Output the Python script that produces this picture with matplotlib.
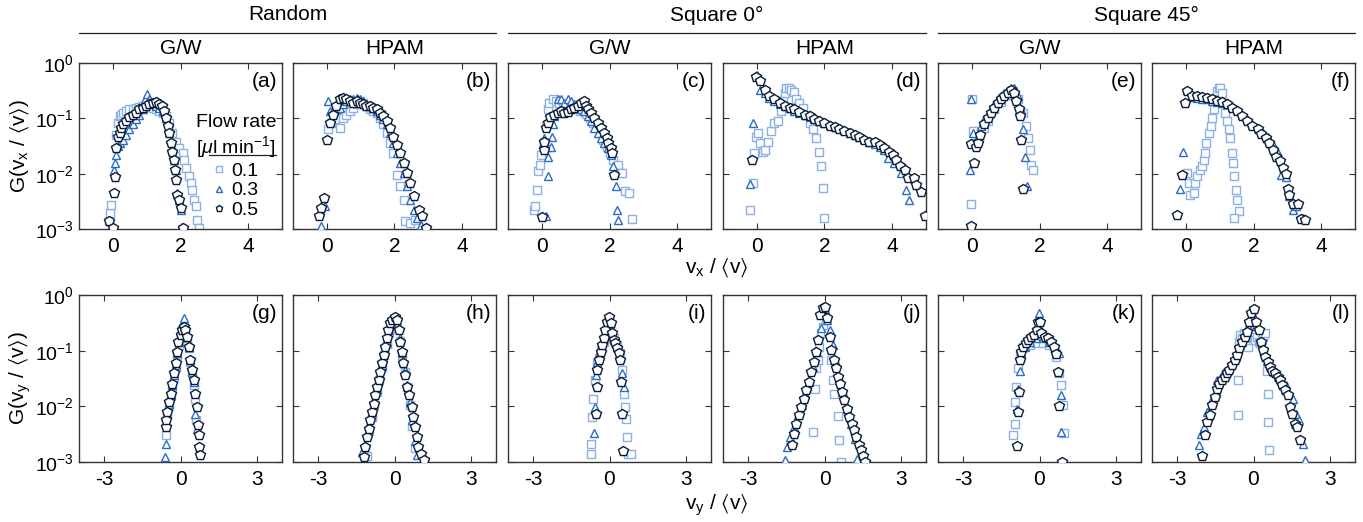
import matplotlib
matplotlib.use("Agg")
import matplotlib.pyplot as plt
from matplotlib.lines import Line2D
from matplotlib.ticker import FixedLocator, NullLocator, NullFormatter

plt.rcParams['font.family'] = ['Liberation Sans', 'DejaVu Sans']
plt.rcParams['mathtext.fontset'] = 'custom'
plt.rcParams['mathtext.rm'] = 'Liberation Sans'
plt.rcParams['mathtext.it'] = 'Liberation Sans:italic'
plt.rcParams['mathtext.bf'] = 'Liberation Sans:bold'
plt.rcParams['mathtext.fallback'] = 'stixsans'
plt.rcParams['axes.unicode_minus'] = False

# ---- data.  x = v/<v>, g = G ----
# suffix 1 -> 0.1, 3 -> 0.3, 5 -> 0.5 ul/min

# (a) Random, G/W, vx
a_x1 = [-0.10, -0.08, -0.05, 0.10, 0.15, 0.20, 0.25, 0.29, 0.39, 0.49, 0.59, 0.69, 0.78, 0.88, 0.98, 1.08, 1.18, 1.27,
        1.37, 1.47, 1.57, 1.67, 1.76, 1.86, 1.96, 2.06, 2.11, 2.16, 2.25, 2.30, 2.35, 2.40, 2.45, 2.50, 2.55]
a_g1 = [0.00138, 0.00195, 0.00275, 0.0501, 0.0832, 0.110, 0.117, 0.126, 0.135, 0.145, 0.145, 0.155, 0.162, 0.166,
        0.178, 0.166, 0.155, 0.145, 0.135, 0.126, 0.110, 0.0832, 0.0537, 0.0380, 0.0288, 0.0234, 0.0178, 0.0126,
        0.00891, 0.00676, 0.00513, 0.00339, 0.00257, 0.00148, 0.00105]
a_x3 = [0.02, 0.05, 0.10, 0.15, 0.20, 0.29, 0.39, 0.49, 0.59, 0.69, 0.78, 0.88, 0.95, 1.00, 1.08, 1.18, 1.27, 1.37,
        1.47, 1.57, 1.67, 1.76, 1.81, 1.86, 1.91, 1.96, 2.01, 2.06]
a_g3 = [0.0117, 0.0158, 0.0219, 0.0316, 0.0355, 0.0407, 0.0501, 0.0631, 0.0776, 0.0955, 0.117, 0.145, 0.219, 0.275,
        0.219, 0.191, 0.170, 0.155, 0.135, 0.102, 0.0575, 0.0269, 0.0178, 0.0117, 0.00447, 0.00339, 0.00224, 0.00105]
a_x5 = [-0.10, 0.00, 0.03, 0.06, 0.08, 0.15, 0.20, 0.25, 0.31, 0.39, 0.49, 0.59, 0.69, 0.78, 0.88, 0.98, 1.08, 1.18,
        1.27, 1.37, 1.45, 1.52, 1.57, 1.62, 1.67, 1.72, 1.76, 1.81, 1.84, 1.88, 1.91, 1.96, 2.01, 2.06]
a_g5 = [0.00138, 0.00105, 0.00447, 0.0087, 0.0288, 0.0468, 0.0537, 0.0676, 0.0776, 0.0891, 0.105, 0.115, 0.126,
        0.145, 0.155, 0.166, 0.178, 0.191, 0.195, 0.182, 0.166, 0.135, 0.102, 0.0724, 0.0537, 0.0355, 0.0251, 0.0178,
        0.0117, 0.00776, 0.00417, 0.00339, 0.0024, 0.00105]

# (b) Random, HPAM, vx
b_x1 = [0.03, 0.13, 0.23, 0.38, 0.48, 0.58, 0.68, 0.78, 0.88, 0.98, 1.07, 1.17, 1.27, 1.37, 1.47, 1.57, 1.67, 1.77,
        1.87, 1.97, 2.07, 2.17, 2.27, 2.32, 2.47, 2.62]
b_g1 = [0.0631, 0.0832, 0.0955, 0.0676, 0.102, 0.117, 0.135, 0.155, 0.178, 0.204, 0.191, 0.166, 0.145, 0.135, 0.126,
        0.102, 0.0776, 0.055, 0.0355, 0.0234, 0.00955, 0.00589, 0.00339, 0.00138, 0.00129, 0.00148]
b_x3 = [-0.17, -0.04, 0.03, 0.08, 0.18, 0.28, 0.38, 0.48, 0.58, 0.68, 0.78, 0.88, 0.98, 1.07, 1.17, 1.27, 1.37, 1.47,
        1.57, 1.67, 1.77, 1.87, 1.97, 2.07, 2.17, 2.27, 2.37, 2.47, 2.57, 2.67, 2.77]
b_g3 = [0.00112, 0.00257, 0.204, 0.135, 0.141, 0.145, 0.155, 0.178, 0.204, 0.219, 0.219, 0.234, 0.219, 0.204, 0.178,
        0.166, 0.155, 0.135, 0.117, 0.0955, 0.0776, 0.055, 0.0355, 0.0234, 0.0155, 0.0102, 0.00589, 0.00339, 0.00224,
        0.00158, 0.0012]
b_x5 = [-0.22, -0.17, -0.07, 0.00, 0.08, 0.18, 0.28, 0.38, 0.48, 0.58, 0.68, 0.78, 0.88, 0.98, 1.07, 1.17, 1.27, 1.37,
        1.47, 1.57, 1.67, 1.77, 1.87, 1.97, 2.07, 2.17, 2.27, 2.37, 2.47, 2.57, 2.72, 2.82, 2.92]
b_g5 = [0.0017, 0.0024, 0.00363, 0.0407, 0.0832, 0.117, 0.166, 0.219, 0.234, 0.219, 0.204, 0.191, 0.204, 0.191, 0.178,
        0.170, 0.166, 0.155, 0.145, 0.126, 0.110, 0.0891, 0.0676, 0.0468, 0.0331, 0.0234, 0.0155, 0.0102, 0.00676,
        0.00389, 0.00224, 0.0017, 0.00105]

# (c) Square 0, G/W, vx
c_x1 = [-0.23, -0.20, -0.15, -0.10, -0.05, -0.03, 0.05, 0.12, 0.17, 0.22, 0.32, 0.42, 0.52, 0.62, 0.72, 0.82, 0.92,
        1.02, 1.12, 1.22, 1.32, 1.42, 1.52, 1.62, 1.72, 1.82, 1.92, 2.02, 2.10, 2.25, 2.30, 2.38, 2.45, 2.57, 2.67]
c_g1 = [0.00224, 0.00257, 0.00513, 0.011, 0.0145, 0.0219, 0.038, 0.0724, 0.145, 0.191, 0.219, 0.204, 0.191, 0.178,
        0.166, 0.162, 0.155, 0.145, 0.138, 0.135, 0.12, 0.102, 0.0832, 0.0676, 0.0537, 0.0407, 0.0309, 0.0234, 0.0178,
        0.0145, 0.0102, 0.0102, 0.00479, 0.00447, 0.00151]
c_x3 = [0.12, 0.02, 0.07, 0.15, 0.19, 0.17, 0.27, 0.29, 0.32, 0.37, 0.47, 0.56, 0.66, 0.76, 0.86, 0.96, 1.06, 1.16,
        1.26, 1.36, 1.46, 1.55, 1.65, 1.75, 1.85, 1.95, 2.03, 2.10, 2.20, 2.23, 2.25]
c_g3 = [0.0017, 0.0355, 0.0437, 0.0309, 0.0204, 0.00891, 0.0309, 0.0468, 0.0776, 0.110, 0.219, 0.219, 0.191, 0.219,
        0.204, 0.178, 0.155, 0.145, 0.135, 0.110, 0.0891, 0.0676, 0.0537, 0.0437, 0.0355, 0.0288, 0.0219, 0.0135,
        0.00603, 0.00224, 0.00148]
c_x5 = [0.00, 0.05, 0.07, 0.12, 0.17, 0.25, 0.37, 0.47, 0.56, 0.66, 0.76, 0.86, 0.96, 1.06, 1.16, 1.26, 1.31, 1.36,
        1.46, 1.55, 1.65, 1.75, 1.85, 1.93, 1.97, 2.03, 2.07, 2.13]
c_g5 = [0.00166, 0.0269, 0.038, 0.0676, 0.0832, 0.105, 0.117, 0.126, 0.135, 0.126, 0.129, 0.145, 0.155, 0.170, 0.191,
        0.204, 0.170, 0.145, 0.126, 0.102, 0.0832, 0.0676, 0.0537, 0.0437, 0.0355, 0.0288, 0.0234, 0.00933]

# (d) Square 0, HPAM, vx
d_x1 = [-0.19, -0.12, -0.07, -0.02, 0.03, 0.08, 0.18, 0.25, 0.33, 0.42, 0.52, 0.62, 0.72, 0.77, 0.82, 0.87, 0.95,
        1.01, 1.09, 1.16, 1.26, 1.36, 1.45, 1.56, 1.65, 1.75, 1.85, 1.90, 1.95, 2.00]
d_g1 = [0.00224, 0.00676, 0.0234, 0.0468, 0.0537, 0.0355, 0.0251, 0.0269, 0.038, 0.0589, 0.0832, 0.0891, 0.135,
        0.204, 0.288, 0.355, 0.355, 0.331, 0.295, 0.219, 0.191, 0.155, 0.117, 0.0832, 0.0631, 0.0437, 0.0251, 0.0135,
        0.0055, 0.00155]
d_x3 = [-0.19, -0.12, 0.00, 0.08, 0.23, 0.37, 0.52, 0.67, 0.82, 0.97, 1.11, 1.26, 1.41, 1.56, 1.70, 1.85, 2.00, 2.15,
        2.30, 2.44, 2.59, 2.74, 2.89, 3.03, 3.18, 3.33, 3.48, 3.63, 3.77, 3.87, 4.06, 4.26, 4.41, 4.51]
d_g3 = [0.0066, 0.0832, 0.617, 0.331, 0.282, 0.234, 0.204, 0.182, 0.166, 0.151, 0.138, 0.126, 0.117, 0.107, 0.0977,
        0.0912, 0.0832, 0.0759, 0.0708, 0.0661, 0.0603, 0.055, 0.0501, 0.0457, 0.0417, 0.038, 0.0347, 0.0309, 0.0269,
        0.0191, 0.0155, 0.0102, 0.00513, 0.00339]
d_x5 = [-0.14, -0.02, 0.08, 0.23, 0.37, 0.52, 0.67, 0.82, 0.97, 1.11, 1.26, 1.41, 1.56, 1.70, 1.85, 2.00, 2.15, 2.30,
        2.44, 2.59, 2.74, 2.89, 3.03, 3.18, 3.33, 3.48, 3.63, 3.77, 3.92, 4.02, 4.12, 4.22, 4.37, 4.46, 4.64, 4.71,
        4.85, 4.97]
d_g5 = [0.0178, 0.55, 0.479, 0.331, 0.251, 0.219, 0.191, 0.170, 0.155, 0.145, 0.129, 0.117, 0.110, 0.0977, 0.0891,
        0.0832, 0.0741, 0.0692, 0.0631, 0.0589, 0.0537, 0.049, 0.0457, 0.0407, 0.0372, 0.038, 0.0331, 0.0288, 0.0251,
        0.0219, 0.0178, 0.0135, 0.0117, 0.00832, 0.00832, 0.00631, 0.00457, 0.00174]

# (e) Square 45, G/W, vx
e_x1 = [-0.03, 0.00, 0.02, 0.12, 0.37, 0.47, 0.66, 0.86, 1.06, 1.21, 1.36, 1.51, 1.61, 1.66, 1.71, 1.76, 1.81]
e_g1 = [0.00288, 0.219, 0.0589, 0.0355, 0.0661, 0.0891, 0.145, 0.2, 0.269, 0.309, 0.219, 0.126, 0.0724, 0.0437,
        0.0269, 0.0145, 0.0115]
e_x3 = [-0.03, -0.05, 0.02, 0.12, 0.27, 0.37, 0.47, 0.56, 0.66, 0.76, 0.86, 0.96, 1.06, 1.16, 1.26, 1.36, 1.46, 1.51,
        1.56, 1.63]
e_g3 = [0.224, 0.0115, 0.0537, 0.0407, 0.0724, 0.0955, 0.117, 0.145, 0.178, 0.219, 0.251, 0.288, 0.324, 0.355, 0.355,
        0.251, 0.145, 0.0631, 0.0204, 0.00603]
e_x5 = [-0.03, 0.07, -0.03, 0.12, 0.17, 0.25, 0.37, 0.47, 0.56, 0.66, 0.76, 0.86, 0.96, 1.06, 1.16, 1.24, 1.31, 1.38,
        1.42, 1.46, 1.51]
e_g5 = [0.00112, 0.0155, 0.0347, 0.0309, 0.0355, 0.0501, 0.0776, 0.102, 0.126, 0.155, 0.191, 0.219, 0.251, 0.288,
        0.324, 0.282, 0.204, 0.145, 0.110, 0.0407, 0.00537]

# (f) Square 45, HPAM, vx
f_x1 = [0.03, 0.08, 0.13, 0.23, 0.28, 0.33, 0.41, 0.48, 0.53, 0.58, 0.61, 0.68, 0.73, 0.78, 0.83, 0.88, 0.93, 0.98,
        1.02, 1.07, 1.12, 1.17, 1.22, 1.27, 1.32, 1.37, 1.40, 1.42, 1.47, 1.52, 1.57, 1.42]
f_g1 = [0.0102, 0.00676, 0.00417, 0.00447, 0.00676, 0.00891, 0.0117, 0.0135, 0.0178, 0.0234, 0.0355, 0.0537, 0.0724,
        0.102, 0.145, 0.219, 0.309, 0.355, 0.355, 0.288, 0.191, 0.126, 0.0891, 0.0631, 0.0437, 0.0234, 0.0155, 0.00891,
        0.00513, 0.00339, 0.00209, 0.00158]
f_x3 = [-0.17, -0.07, 0.03, 0.18, 0.33, 0.48, 0.63, 0.78, 0.93, 1.07, 1.22, 1.37, 1.52, 1.67, 1.82, 1.97, 2.12, 2.27,
        2.42, 2.57, 2.72, 2.82, 2.96, 3.06, 3.16, 3.26, 3.46]
f_g3 = [0.00537, 0.0251, 0.331, 0.24, 0.229, 0.224, 0.219, 0.209, 0.2, 0.191, 0.182, 0.162, 0.141, 0.117, 0.0955,
        0.0794, 0.0676, 0.055, 0.0457, 0.0339, 0.0234, 0.00955, 0.00871, 0.00398, 0.00224, 0.00263, 0.00158]
f_x5 = [-0.27, -0.10, -0.02, 0.03, 0.18, 0.33, 0.48, 0.63, 0.78, 0.93, 1.07, 1.22, 1.37, 1.52, 1.67, 1.82, 1.97, 2.12,
        2.22, 2.37, 2.47, 2.57, 2.67, 2.77, 2.87, 2.96, 3.01, 3.06, 3.16, 3.31, 3.41, 3.51]
f_g5 = [0.00182, 0.00955, 0.191, 0.309, 0.251, 0.251, 0.24, 0.229, 0.219, 0.209, 0.195, 0.178, 0.155, 0.135, 0.110,
        0.0891, 0.0741, 0.0631, 0.0513, 0.0437, 0.0355, 0.0269, 0.0204, 0.0166, 0.0126, 0.01, 0.00525, 0.00417,
        0.00282, 0.00282, 0.00151, 0.00148]

# (g) Random, G/W, vy
g_x1 = [-0.56, -0.52, -0.45, -0.39, -0.32, -0.26, -0.19, -0.13, -0.06, 0.00, 0.06, 0.13, 0.19, 0.26, 0.32, 0.39, 0.45,
        0.52, 0.58, 0.62]
g_g1 = [0.00302, 0.00708, 0.0107, 0.0151, 0.0224, 0.0339, 0.0513, 0.0832, 0.126, 0.178, 0.24, 0.263, 0.219, 0.166,
        0.110, 0.0631, 0.0389, 0.024, 0.0138, 0.00562]
g_x3 = [-0.61, -0.58, -0.52, -0.45, -0.39, -0.32, -0.26, -0.19, -0.13, -0.06, 0.00, 0.06, 0.13, 0.19, 0.26, 0.32, 0.39,
        0.45, 0.52, 0.58, 0.65]
g_g3 = [0.00123, 0.00214, 0.00741, 0.0112, 0.0158, 0.024, 0.0363, 0.055, 0.0891, 0.145, 0.219, 0.302, 0.38, 0.282,
        0.191, 0.117, 0.0676, 0.0417, 0.0275, 0.00741, 0.00398]
g_x5 = [-0.58, -0.56, -0.52, -0.45, -0.39, -0.32, -0.26, -0.19, -0.13, -0.09, 0.00, 0.06, 0.13, 0.19, 0.26, 0.32, 0.39,
        0.45, 0.52, 0.58, 0.65, 0.69, 0.71, 0.74, 0.78]
g_g5 = [0.00427, 0.00562, 0.00794, 0.012, 0.017, 0.0257, 0.0389, 0.0589, 0.0955, 0.145, 0.191, 0.24, 0.269, 0.234,
        0.178, 0.117, 0.0676, 0.0447, 0.0295, 0.017, 0.00977, 0.00457, 0.00302, 0.00186, 0.00132]

# (h) Random, HPAM, vy
h_x1 = [-1.10, -1.00, -0.90, -0.80, -0.70, -0.60, -0.50, -0.40, -0.30, -0.20, -0.10, 0.00, 0.10, 0.20, 0.30, 0.40, 0.50,
        0.60, 0.70, 0.80]
h_g1 = [0.00126, 0.00355, 0.00631, 0.0105, 0.0178, 0.0302, 0.0501, 0.0832, 0.132, 0.209, 0.282, 0.316, 0.251, 0.151,
        0.0832, 0.0417, 0.0219, 0.0105, 0.00447, 0.00178]
h_x3 = [-1.27, -1.18, -1.10, -1.00, -0.90, -0.80, -0.70, -0.60, -0.50, -0.40, -0.30, -0.20, -0.10, 0.00, 0.10, 0.20,
        0.30, 0.40, 0.50, 0.60, 0.70, 0.80, 0.90]
h_g3 = [0.00151, 0.002, 0.00302, 0.0049, 0.00794, 0.0129, 0.0209, 0.0339, 0.055, 0.0891, 0.145, 0.234, 0.331, 0.38,
        0.288, 0.166, 0.0891, 0.0447, 0.024, 0.012, 0.00562, 0.0024, 0.00132]
h_x5 = [-1.21, -1.15, -1.08, -1.02, -0.95, -0.89, -0.82, -0.76, -0.69, -0.63, -0.56, -0.50, -0.43, -0.37, -0.30, -0.24,
        -0.17, -0.10, 0.03, 0.09, 0.16, 0.22, 0.29, 0.35, 0.42, 0.48, 0.59, 0.68, 0.74, 0.81, 0.87, 0.94, 1.03, 1.16]
h_g5 = [0.00123, 0.00186, 0.00282, 0.00398, 0.00562, 0.00794, 0.0112, 0.0158, 0.0224, 0.0295, 0.0417, 0.0589, 0.0832,
        0.117, 0.166, 0.234, 0.309, 0.355, 0.407, 0.355, 0.234, 0.145, 0.0955, 0.0589, 0.0363, 0.0224, 0.0158,
        0.00977, 0.00646, 0.00427, 0.00282, 0.00186, 0.00141, 0.00107]

# (i) Square 0, G/W, vy
i_x1 = [-0.74, -0.74, -0.68, -0.64, -0.57, -0.48, -0.35, -0.22, -0.09, 0.04, 0.17, 0.30, 0.43, 0.50, 0.56, 0.63, 0.65,
        0.69, 0.73, 0.86]
i_g1 = [0.00141, 0.00209, 0.00646, 0.0138, 0.0295, 0.0589, 0.102, 0.145, 0.166, 0.178, 0.166, 0.126, 0.0891, 0.0447,
        0.017, 0.00977, 0.00603, 0.00282, 0.00141, 0.00141]
i_x3 = [-0.61, -0.57, -0.55, -0.48, -0.42, -0.29, -0.16, -0.09, -0.03, 0.04, 0.10, 0.17, 0.30, 0.43, 0.50, 0.56]
i_g3 = [0.00331, 0.00977, 0.0363, 0.0631, 0.0955, 0.135, 0.191, 0.269, 0.355, 0.269, 0.191, 0.155, 0.117, 0.0724,
        0.0389, 0.0224]
i_x5 = [-0.52, -0.51, -0.48, -0.42, -0.35, -0.29, -0.22, -0.16, -0.09, -0.03, 0.04, 0.10, 0.17, 0.23, 0.30, 0.37, 0.43,
        0.47, 0.50, 0.52]
i_g5 = [0.00741, 0.0224, 0.0447, 0.0676, 0.0955, 0.126, 0.166, 0.234, 0.331, 0.407, 0.309, 0.204, 0.155, 0.135, 0.110,
        0.0891, 0.0676, 0.0275, 0.00741, 0.00158]

# (j) Square 0, HPAM, vy
j_x1 = [-0.46, -0.39, -0.33, -0.26, -0.20, -0.13, -0.07, 0.07, 0.13, 0.26, 0.33, 0.39, 0.52, 0.59, 0.65]
j_g1 = [0.00347, 0.0209, 0.0479, 0.0676, 0.117, 0.204, 0.269, 0.355, 0.204, 0.0676, 0.0295, 0.017, 0.00661, 0.00245,
        0.001]
j_x3 = [-1.56, -1.46, -1.35, -1.20, -1.05, -0.90, -0.75, -0.60, -0.45, -0.30, -0.15, 0.00, 0.10, 0.20, 0.33, 0.45,
        0.60, 0.75, 0.90, 1.05, 1.20, 1.30]
j_g3 = [0.00107, 0.00186, 0.00282, 0.00427, 0.00692, 0.0105, 0.017, 0.0275, 0.0513, 0.0955, 0.251, 0.55, 0.355, 0.234,
        0.126, 0.0631, 0.0316, 0.017, 0.00912, 0.0049, 0.00263, 0.00115]
j_x5 = [-1.30, -1.21, -1.11, -1.00, -0.91, -0.82, -0.72, -0.63, -0.52, -0.43, -0.35, -0.26, -0.16, -0.07, 0.00, 0.10,
        0.20, 0.26, 0.37, 0.46, 0.52, 0.61, 0.69, 0.78, 0.87, 0.98, 1.07, 1.17, 1.24, 1.34, 1.43, 1.50, 1.60]
j_g5 = [0.002, 0.00324, 0.0049, 0.00692, 0.00977, 0.0138, 0.0195, 0.0275, 0.0417, 0.0631, 0.0955, 0.155, 0.437, 0.575,
        0.603, 0.38, 0.178, 0.102, 0.0676, 0.0479, 0.0339, 0.0257, 0.0182, 0.0129, 0.00912, 0.00646, 0.0049, 0.00372,
        0.00282, 0.002, 0.00162, 0.00126, 0.001]

# (k) Square 45, G/W, vy
k_x1 = [-1.04, -0.98, -0.95, -0.91, -0.85, -0.78, -0.65, -0.39, -0.13, 0.13, 0.39, 0.65, 0.78, 0.85, 0.91, 0.98]
k_g1 = [0.00309, 0.0049, 0.012, 0.0219, 0.0479, 0.0832, 0.117, 0.126, 0.135, 0.135, 0.126, 0.0776, 0.0389, 0.024,
        0.0105, 0.00331]
k_x3 = [-0.87, -0.84, -0.78, -0.72, -0.59, -0.39, -0.13, -0.03, 0.13, 0.39, 0.65, 0.78, 0.85, 0.85, 0.89]
k_g3 = [0.00912, 0.0209, 0.0437, 0.0891, 0.117, 0.145, 0.166, 0.479, 0.166, 0.145, 0.110, 0.0891, 0.0158, 0.00347,
        0.001]
k_x5 = [-0.87, -0.84, -0.81, -0.78, -0.72, -0.65, -0.55, -0.46, -0.33, -0.20, -0.10, -0.04, 0.00, 0.07, 0.20, 0.33,
        0.46, 0.59, 0.65, 0.72, 0.78, 0.89]
k_g5 = [0.00195, 0.00794, 0.0182, 0.0676, 0.0955, 0.117, 0.135, 0.155, 0.174, 0.191, 0.234, 0.331, 0.331, 0.204,
        0.178, 0.166, 0.145, 0.117, 0.0871, 0.0417, 0.01, 0.001]

# (l) Square 45, HPAM, vy
l_x1 = [-0.61, -0.61, -0.58, -0.52, -0.45, -0.39, -0.30, -0.26, -0.20, -0.13, -0.07, 0.00, 0.07, 0.13, 0.20, 0.26,
        0.33, 0.39, 0.46, 0.52, 0.59, 0.59, 0.61]
l_g1 = [0.00692, 0.0295, 0.141, 0.191, 0.166, 0.204, 0.178, 0.155, 0.117, 0.158, 0.166, 0.178, 0.158, 0.178, 0.141,
        0.135, 0.158, 0.178, 0.204, 0.0437, 0.017, 0.00525, 0.00166]
l_x3 = [-2.15, -2.05, -1.96, -1.83, -1.63, -1.43, -1.20, -0.95, -0.70, -0.45, -0.20, -0.07, 0.10, 0.30, 0.55, 0.80,
        1.05, 1.30, 1.56, 1.69, 1.80, 1.96, 2.02]
l_g3 = [0.002, 0.00324, 0.00427, 0.00794, 0.0138, 0.0295, 0.0398, 0.0501, 0.0759, 0.141, 0.282, 0.501, 0.282, 0.151,
        0.0661, 0.0417, 0.0316, 0.024, 0.0138, 0.00741, 0.00562, 0.00214, 0.0011]
l_x5 = [-2.02, -1.92, -1.83, -1.73, -1.63, -1.53, -1.43, -1.34, -1.24, -1.13, -1.04, -0.95, -0.85, -0.74, -0.65, -0.56,
        -0.46, -0.35, -0.26, -0.17, -0.09, 0.00, 0.09, 0.20, 0.30, 0.39, 0.46, 0.56, 0.65, 0.74, 0.85, 0.95, 1.04,
        1.13, 1.24, 1.34, 1.43, 1.53, 1.63, 1.73, 1.83]
l_g5 = [0.00129, 0.00302, 0.00525, 0.00692, 0.0105, 0.0148, 0.0209, 0.0257, 0.0295, 0.0339, 0.0389, 0.0447, 0.055,
        0.0676, 0.0832, 0.110, 0.145, 0.178, 0.219, 0.331, 0.468, 0.55, 0.331, 0.234, 0.145, 0.102, 0.0776, 0.0631,
        0.0513, 0.0437, 0.0389, 0.0339, 0.0295, 0.024, 0.0195, 0.0158, 0.00977, 0.00741, 0.0049, 0.00427, 0.00251]

groups = ["Random", "Square 0\u00b0", "Square 45\u00b0"]
fluids = ["G/W", "HPAM"]
rates = ["0.1", "0.3", "0.5"]

top_panels = [(a_x1, a_g1, a_x3, a_g3, a_x5, a_g5), (b_x1, b_g1, b_x3, b_g3, b_x5, b_g5),
              (c_x1, c_g1, c_x3, c_g3, c_x5, c_g5), (d_x1, d_g1, d_x3, d_g3, d_x5, d_g5),
              (e_x1, e_g1, e_x3, e_g3, e_x5, e_g5), (f_x1, f_g1, f_x3, f_g3, f_x5, f_g5)]
bot_panels = [(g_x1, g_g1, g_x3, g_g3, g_x5, g_g5), (h_x1, h_g1, h_x3, h_g3, h_x5, h_g5),
              (i_x1, i_g1, i_x3, i_g3, i_x5, i_g5), (j_x1, j_g1, j_x3, j_g3, j_x5, j_g5),
              (k_x1, k_g1, k_x3, k_g3, k_x5, k_g5), (l_x1, l_g1, l_x3, l_g3, l_x5, l_g5)]
top_letters = ["(a)", "(b)", "(c)", "(d)", "(e)", "(f)"]
bot_letters = ["(g)", "(h)", "(i)", "(j)", "(k)", "(l)"]

markers = ["s", "^", "p"]
colors = ["#8ab0e4", "#2c6dc3", "#0b1c36"]
msizes = [5.4, 6.4, 7.0]

W, H = 1363, 522
fig = plt.figure(figsize=(W / 100, H / 100), dpi=100)

lefts = [79, 293, 508, 723, 938, 1152]
pw = 203
rows = [(63, 229), (295, 462)]

spine_col = "#333333"
fs = 15
tfs = 14


def style_axes(ax, xlim, xticks, show_y):
    ax.set_yscale("log")
    ax.set_ylim(1e-3, 1)
    ax.set_xlim(*xlim)
    ax.xaxis.set_major_locator(FixedLocator(xticks))
    ax.yaxis.set_major_locator(FixedLocator([1e-3, 1e-2, 1e-1, 1]))
    ax.yaxis.set_minor_locator(NullLocator())
    ax.xaxis.set_minor_locator(NullLocator())
    ax.tick_params(which="both", direction="in", top=True, right=True, length=4, width=0.8,
                   color=spine_col, labelsize=tfs, pad=4)
    ax.tick_params(axis="x", labelsize=fs, pad=6)
    if not show_y:
        ax.yaxis.set_major_formatter(NullFormatter())
    for s in ax.spines.values():
        s.set_color(spine_col)
        s.set_linewidth(1.0)


axes_top = []
for r, (panels, letters, xlim, xticks) in enumerate([
        (top_panels, top_letters, (-1, 5), [0, 2, 4]),
        (bot_panels, bot_letters, (-4, 4), [-3, 0, 3])]):
    y0, y1 = rows[r]
    for c in range(6):
        ax = fig.add_axes([lefts[c] / W, 1 - y1 / H, pw / W, (y1 - y0) / H])
        data = panels[c]
        for k in range(3):
            ax.plot(data[2 * k], data[2 * k + 1], ls="none", marker=markers[k], ms=msizes[k],
                    mfc="white", mec=colors[k], mew=1.0, zorder=2 + k, clip_on=True)
        style_axes(ax, xlim, xticks, c == 0)
        ax.text(0.975, 0.945, letters[c], transform=ax.transAxes, ha="right", va="top", fontsize=fs)
        if r == 0:
            axes_top.append(ax)

# legend in panel (a)
handles = [Line2D([], [], ls="none", marker=markers[k], ms=msizes[k] * 0.7, mfc="white",
                  mec=colors[k], mew=1.0) for k in range(3)]
leg = axes_top[0].legend(handles, rates, title="Flow rate\n[$\\mu$l min$^{-1}$]", loc="upper right",
                         bbox_to_anchor=(1.0, 0.73), frameon=False, fontsize=14, title_fontsize=14,
                         handlelength=0.6, handletextpad=0.3, labelspacing=0.1, borderpad=0.1,
                         borderaxespad=0.2)
axes_top[0].plot([0.64, 0.97], [0.445, 0.445], transform=axes_top[0].transAxes, color="#222222",
                 lw=0.9, clip_on=False)

# group headers and fluid titles
for gi, g in enumerate(groups):
    xl = lefts[2 * gi] / W
    xr = (lefts[2 * gi + 1] + pw) / W
    fig.text((xl + xr) / 2, 1 - 15 / H, g, ha="center", va="center", fontsize=fs)
    fig.add_artist(Line2D([xl, xr], [1 - 33 / H, 1 - 33 / H], color="#222222", lw=0.9))
for c in range(6):
    fig.text((lefts[c] + pw / 2) / W, 1 - 49 / H, fluids[c % 2], ha="center", va="center", fontsize=fs)

xc = (lefts[0] + lefts[5] + pw) / 2 / W
fig.text(xc, 1 - 268 / H, "v$_\\mathregular{x}$ / $\\langle$v$\\rangle$", ha="center", va="center",
         fontsize=fs)
fig.text(xc, 1 - 505 / H, "v$_\\mathregular{y}$ / $\\langle$v$\\rangle$", ha="center", va="center",
         fontsize=fs)
fig.text(20 / W, 1 - 146 / H, "G(v$_\\mathregular{x}$ / $\\langle$v$\\rangle$)", ha="center", va="center",
         rotation=90, fontsize=fs)
fig.text(20 / W, 1 - 378 / H, "G(v$_\\mathregular{y}$ / $\\langle$v$\\rangle$)", ha="center", va="center",
         rotation=90, fontsize=fs)

fig.savefig("out.png", dpi=100)
